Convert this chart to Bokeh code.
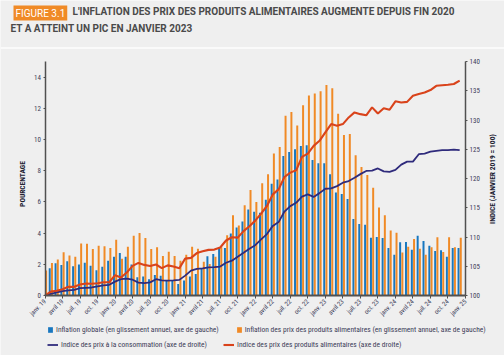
import math
from bokeh.plotting import figure
from bokeh.models import (Range1d, LinearAxis, FixedTicker, Legend, LegendItem,
                          Label, ColumnDataSource, Span)
from bokeh.transform import dodge
from bokeh.embed import file_html
from bokeh.resources import INLINE

# ---------------- data (monthly, janv. 2019 -> déc. 2024) ----------------
month_index = list(range(72))

tick_labels = ["janv. 19", "avril 19", "juil. 19", "oct. 19",
               "janv. 20", "avril 20", "juil. 20", "oct. 20",
               "janv. 21", "avril 21", "juil. 21", "oct. 21",
               "janv. 22", "avril 22", "juil. 22", "oct. 22",
               "janv. 23", "avril 23", "juil. 23", "oct. 23",
               "janv. 24", "avril 24", "juil. 24", "oct. 24",
               "janv. 25"]

headline_inflation = [float("nan"), 1.74, 2.06, 1.96, 2.19, 1.87, 1.98, 2.1, 1.91, 1.62, 1.85, 2.23,
                      2.49, 2.72, 2.49, 1.98, 1.17, 1.21, 1.04, 1.32, 1.26, 0.96, 0.96, 0.74,
                      0.96, 1.21, 1.38, 1.7, 2.51, 2.66, 3.09, 3.04, 3.98, 4.36, 4.74, 5.51,
                      5.37, 5.3, 6.13, 7.16, 7.43, 8.95, 9.2, 9.37, 9.58, 9.63, 8.69, 8.48,
                      8.48, 7.77, 6.6, 6.5, 6.18, 4.9, 4.58, 4.54, 3.7, 3.75, 3.68, 3.05,
                      2.62, 3.41, 3.43, 2.94, 3.83, 3.49, 3.19, 2.85, 2.9, 2.49, 3.05, 3.05]

food_inflation = [1.6, 2.08, 2.3, 2.77, 2.57, 2.49, 3.34, 3.32, 2.98, 3.19, 3.15, 3.04,
                  3.57, 2.36, 3.13, 3.83, 4.0, 3.68, 2.98, 3.09, 2.53, 2.81, 2.53, 2.23,
                  2.62, 3.13, 3.0, 2.17, 2.02, 2.49, 3.09, 3.87, 5.15, 4.49, 5.79, 6.77,
                  6.0, 7.2, 7.77, 9.1, 9.52, 11.52, 11.76, 10.9, 12.2, 12.82, 12.95, 13.1,
                  13.5, 13.29, 11.65, 10.29, 10.35, 8.99, 8.24, 7.73, 6.9, 5.64, 5.15, 4.17,
                  4.03, 2.75, 3.13, 3.62, 3.0, 2.62, 3.09, 3.73, 2.79, 3.73, 3.09, 3.7]

cpi_index = [100.0, 100.29, 100.52, 100.74, 100.86, 100.97, 101.26, 101.32, 101.37, 101.55, 101.72, 101.83,
             102.37, 102.8, 102.88, 102.7, 102.2, 102.12, 102.25, 102.78, 102.6, 102.55, 102.6, 102.67,
             103.4, 104.26, 104.54, 104.65, 104.82, 104.85, 104.94, 105.6, 105.96, 106.64, 107.3, 108.0,
             108.6, 109.6, 110.5, 111.9, 112.55, 114.35, 115.28, 115.85, 116.9, 117.28, 116.85, 117.5,
             118.25, 118.3, 118.7, 119.28, 119.57, 120.14, 120.75, 121.29, 121.35, 121.72, 121.22, 121.12,
             121.46, 122.38, 122.89, 122.89, 124.15, 124.26, 124.58, 124.72, 124.84, 124.84, 124.95, 124.84]

food_index = [100.0, 100.68, 100.8, 101.08, 101.48, 101.48, 101.88, 102.05, 102.0, 102.1, 102.27, 102.27,
              103.47, 103.07, 103.92, 105.06, 105.57, 105.23, 105.05, 105.3, 104.68, 105.15, 104.95, 104.67,
              106.3, 106.43, 107.25, 107.55, 107.8, 107.85, 108.2, 109.4, 109.95, 109.9, 111.0, 111.85,
              112.8, 114.0, 115.3, 117.28, 118.14, 120.26, 121.0, 121.4, 123.7, 124.26, 125.58, 126.44,
              127.87, 129.3, 129.0, 129.3, 130.44, 131.3, 131.0, 130.8, 132.16, 131.1, 132.0, 131.75,
              133.19, 133.0, 133.1, 134.13, 134.45, 134.7, 135.12, 135.85, 135.94, 136.03, 136.15, 136.74]

left_ticks = [0, 2, 4, 6, 8, 10, 12, 14]
right_ticks = [100, 105, 110, 115, 120, 125, 130, 135, 140]

legend_labels = ["Inflation globale (en glissement annuel, axe de gauche)",
                 "Inflation des prix des produits alimentaires (en glissement annuel, axe de gauche)",
                 "Indice des prix à la consommation (axe de droite)",
                 "Indice des prix des produits alimentaires (axe de droite)"]

title_tag = "FIGURE 3.1"
title_line1 = "L'INFLATION DES PRIX DES PRODUITS ALIMENTAIRES AUGMENTE DEPUIS FIN 2020"
title_line2 = "ET A ATTEINT UN PIC EN JANVIER 2023"
left_label = "POURCENTAGE"
right_label = "INDICE (JANVIER 2019 = 100)"

# ---------------- style / layout ----------------
BG = "#efefef"
BLUE = "#1877bf"
ORANGE = "#f08a26"
NAVY = "#2f2b7c"
RED = "#d9431b"
AXIS = "#505050"
TXT = "#3c3c58"
FONT = "Noto Sans Condensed, Roboto Condensed, Roboto"
TFONT = "Roboto"
W, H = 504, 355
# plot area in page pixels
PL, PR, PT, PB = 44.5, 465.0, 61.0, 295.0
X0, X1 = 0, 72          # months shown between the two y axes
Y0, Y1 = 0, 15          # left axis span
R0, R1 = 100, 140       # right axis span

xs = (PR - PL) / (X1 - X0)
ys = (PB - PT) / (Y1 - Y0)
x_range = Range1d(X0 - PL / xs, X1 + (W - PR) / xs)
y_lo = Y0 - (H - PB) / ys
y_hi = Y1 + PT / ys
k = (R1 - R0) / (Y1 - Y0)
y_range = Range1d(y_lo, y_hi)

src = ColumnDataSource(dict(m=month_index, headline=headline_inflation, food=food_inflation,
                            cpi=cpi_index, fidx=food_index))

p = figure(width=W, height=H, x_range=x_range, y_range=y_range,
           output_backend="svg", toolbar_location=None, title=None,
           min_border=0, background_fill_color=BG, border_fill_color=BG,
           outline_line_color=None)
p.xgrid.visible = False
p.ygrid.visible = False
p.extra_y_ranges = {"idx": Range1d(R0 + (y_lo - Y0) * k, R0 + (y_hi - Y0) * k)}

r_blue = p.vbar(x=dodge("m", -0.19, range=p.x_range), top="headline", width=0.34,
                source=src, fill_color=BLUE, line_color=None)
r_orange = p.vbar(x=dodge("m", 0.19, range=p.x_range), top="food", width=0.34,
                  source=src, fill_color=ORANGE, line_color=None)
r_cpi = p.line("m", "cpi", source=src, y_range_name="idx", line_color=NAVY, line_width=1.8)
r_fidx = p.line("m", "fidx", source=src, y_range_name="idx", line_color=RED, line_width=2.1)

# x axis
xa = p.xaxis[0]
xa.fixed_location = Y0
xa.bounds = (X0, X1)
xa.ticker = FixedTicker(ticks=list(range(X0, X1 + 1, 3)))
xa.major_label_overrides = {i * 3: lab for i, lab in enumerate(tick_labels)}
xa.major_label_orientation = math.pi / 4
xa.major_label_text_font = FONT
xa.major_label_text_font_size = "6.5px"
xa.major_label_text_color = TXT
xa.major_label_standoff = 2
xa.axis_line_color = AXIS
xa.axis_line_width = 2
xa.major_tick_line_color = AXIS
xa.major_tick_out = 3
xa.major_tick_in = 0
xa.minor_tick_line_color = None

# left axis
ya = p.yaxis[0]
ya.fixed_location = X0
ya.bounds = (Y0, Y1)
ya.ticker = FixedTicker(ticks=left_ticks)
ya.major_label_text_font = FONT
ya.major_label_text_font_size = "7px"
ya.major_label_text_color = TXT
ya.major_label_standoff = 2
ya.axis_line_color = AXIS
ya.axis_line_width = 1.5
ya.major_tick_line_color = AXIS
ya.major_tick_out = 2
ya.major_tick_in = 0
ya.minor_tick_line_color = None

# right axis
ra = LinearAxis(y_range_name="idx", ticker=FixedTicker(ticks=right_ticks))
ra.fixed_location = X1
ra.bounds = (R0, R1)
ra.major_label_text_font = FONT
ra.major_label_text_font_size = "7px"
ra.major_label_text_color = TXT
ra.major_label_standoff = 2
ra.axis_line_color = AXIS
ra.axis_line_width = 1.5
ra.major_tick_line_color = AXIS
ra.major_tick_out = 2
ra.major_tick_in = 0
ra.minor_tick_line_color = None
p.add_layout(ra, "right")

# axis titles (rotated, reading upwards)
p.add_layout(Label(x=21.5, y=H - 183.5, x_units="screen", y_units="screen", text=left_label,
                   angle=math.pi / 2, text_align="center", text_baseline="middle",
                   text_font=FONT, text_font_size="7.5px", text_font_style="bold",
                   text_color="#222233"))
p.add_layout(Label(x=492, y=H - 178.5, x_units="screen", y_units="screen", text=right_label,
                   angle=math.pi / 2, text_align="center", text_baseline="middle",
                   text_font=FONT, text_font_size="7.5px", text_font_style="bold",
                   text_color="#222233"))

# legends (two rows)
def style_legend(lg, gw, sp):
    lg.orientation = "horizontal"
    lg.label_text_font = FONT
    lg.label_text_font_size = "7.5px"
    lg.label_text_color = TXT
    lg.label_standoff = 3
    lg.glyph_width = gw
    lg.glyph_height = 7
    lg.label_height = 7
    lg.spacing = sp
    lg.padding = 0
    lg.margin = 0
    lg.border_line_color = None
    lg.background_fill_alpha = 0

leg1 = Legend(items=[LegendItem(label=legend_labels[0], renderers=[r_blue]),
                     LegendItem(label=legend_labels[1], renderers=[r_orange])],
              location=(47, H - 333.5))
style_legend(leg1, 6, 17)
leg2 = Legend(items=[LegendItem(label=legend_labels[2], renderers=[r_cpi]),
                     LegendItem(label=legend_labels[3], renderers=[r_fidx])],
              location=(47, H - 348.5))
style_legend(leg2, 11, 16)
p.add_layout(leg1)
p.add_layout(leg2)

# title block
p.add_layout(Span(location=H - 47.5, location_units="screen", dimension="width",
                  line_color="#fafafa", line_width=2))
p.add_layout(Label(x=13, y=H - 5, x_units="screen", y_units="screen", text=title_tag,
                   text_font=TFONT, text_font_size="10px", text_color="white",
                   text_baseline="top", text_align="left",
                   background_fill_color=ORANGE, padding=2))
p.add_layout(Label(x=72, y=H - 5, x_units="screen", y_units="screen", text=title_line1,
                   text_font=TFONT, text_font_size="10px", text_font_style="bold",
                   text_color="#4a4a4a", text_baseline="top", text_align="left"))
p.add_layout(Label(x=10, y=H - 22, x_units="screen", y_units="screen", text=title_line2,
                   text_font=TFONT, text_font_size="10px", text_font_style="bold",
                   text_color="#4a4a4a", text_baseline="top", text_align="left"))

open("out.html", "w").write(file_html(p, INLINE))
